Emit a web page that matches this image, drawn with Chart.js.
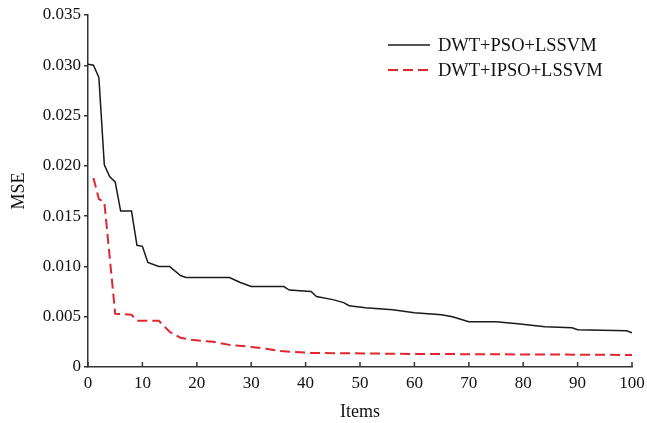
<!DOCTYPE html>
<html>
<head>
<meta charset="utf-8">
<script src="https://cdn.jsdelivr.net/npm/chart.js@4.4.1/dist/chart.umd.min.js"></script>
<style>
  html, body { margin: 0; padding: 0; background: #fff; }
  #wrap { width: 647px; height: 423px; }
</style>
</head>
<body>
<div id="wrap"><canvas id="mse-chart" width="647" height="423"></canvas></div>
<script>
// series
var psoLabel = 'DWT+PSO+LSSVM';
var psoX = [0, 1, 2, 3, 4, 5, 6, 8, 9, 10, 11, 13, 15, 17, 18, 26, 28, 30, 36, 37, 41, 42, 45, 47, 48, 51, 56, 60, 65, 67, 70, 75, 79, 84, 89, 90, 99, 100];
var psoY = [0.0301, 0.0300, 0.0288, 0.0201, 0.0189, 0.0184, 0.0155, 0.0155, 0.0121, 0.0120, 0.0104, 0.0100, 0.0100, 0.0091, 0.0089, 0.0089, 0.0084, 0.0080, 0.0080, 0.00765, 0.0075, 0.0070, 0.0067, 0.0064, 0.0061, 0.0059, 0.0057, 0.0054, 0.0052, 0.0050, 0.0045, 0.0045, 0.0043, 0.0040, 0.0039, 0.0037, 0.0036, 0.0034];

var ipsoLabel = 'DWT+IPSO+LSSVM';
var ipsoX = [1, 2, 3, 5, 8, 9, 13, 15, 17, 19, 21, 23, 26, 30, 33, 35, 38, 41, 60, 100];
var ipsoY = [0.0188, 0.0167, 0.0164, 0.0053, 0.0052, 0.0046, 0.0046, 0.0035, 0.0029, 0.0027, 0.0026, 0.0025, 0.0022, 0.0020, 0.0018, 0.0016, 0.0015, 0.0014, 0.0013, 0.0012];

var xTicks = [0, 10, 20, 30, 40, 50, 60, 70, 80, 90, 100];
var yTicks = [0, 0.005, 0.010, 0.015, 0.020, 0.025, 0.030, 0.035];
var yTickLabels = ['0', '0.005', '0.010', '0.015', '0.020', '0.025', '0.030', '0.035'];

var serif = '"Liberation Serif", "DejaVu Serif", serif';
var axisColor = '#333';

function toPoints(xs, ys) {
  var pts = [];
  for (var i = 0; i < xs.length; i++) {
    pts.push({ x: xs[i], y: ys[i] });
  }
  return pts;
}

// x ticks point into the plot, legend sits inside the top right corner
var extrasPlugin = {
  id: 'extras',
  afterDraw: function (chart) {
    var ctx = chart.ctx;
    var xs = chart.scales.x;
    var area = chart.chartArea;
    ctx.save();
    ctx.strokeStyle = axisColor;
    ctx.lineWidth = 1.5;
    for (var i = 0; i < xTicks.length; i++) {
      var px = xs.getPixelForValue(xTicks[i]);
      ctx.beginPath();
      ctx.moveTo(px, area.bottom);
      ctx.lineTo(px, area.bottom - 5);
      ctx.stroke();
    }

    var sets = chart.data.datasets;
    ctx.font = '18.5px ' + serif;
    ctx.textBaseline = 'middle';
    ctx.fillStyle = '#111';
    for (var j = 0; j < sets.length; j++) {
      var y = 45 + j * 25;
      ctx.beginPath();
      ctx.strokeStyle = sets[j].borderColor;
      ctx.lineWidth = sets[j].borderWidth;
      ctx.setLineDash(sets[j].borderDash || []);
      ctx.moveTo(388, y);
      ctx.lineTo(430, y);
      ctx.stroke();
      ctx.setLineDash([]);
      ctx.fillText(sets[j].label, 438, y + 1);
    }
    ctx.restore();
  }
};

var chart = new Chart(document.getElementById('mse-chart').getContext('2d'), {
  type: 'line',
  data: {
    datasets: [
      {
        label: psoLabel,
        data: toPoints(psoX, psoY),
        borderColor: '#1a1a1a',
        borderWidth: 1.5,
        pointRadius: 0,
        tension: 0,
        fill: false
      },
      {
        label: ipsoLabel,
        data: toPoints(ipsoX, ipsoY),
        borderColor: '#e3262d',
        borderWidth: 2,
        borderDash: [10, 5],
        pointRadius: 0,
        tension: 0,
        fill: false
      }
    ]
  },
  options: {
    responsive: false,
    animation: false,
    layout: { padding: { top: 15, right: 15, left: 0, bottom: 0 } },
    plugins: {
      legend: { display: false },
      tooltip: { enabled: false }
    },
    scales: {
      x: {
        type: 'linear',
        min: 0,
        max: 100,
        afterFit: function (scale) { scale.height = 56; },
        afterBuildTicks: function (scale) {
          scale.ticks = xTicks.map(function (v) { return { value: v }; });
        },
        border: { display: true, color: axisColor, width: 1.5 },
        grid: { display: false },
        ticks: {
          color: '#111',
          font: { family: serif, size: 17 },
          padding: -2,
          maxRotation: 0
        },
        title: {
          display: true,
          text: 'Items',
          color: '#111',
          font: { family: serif, size: 18 },
          padding: { top: 4, bottom: 0 }
        }
      },
      y: {
        min: 0,
        max: 0.035,
        afterFit: function (scale) { scale.width = 88; },
        afterBuildTicks: function (scale) {
          scale.ticks = yTicks.map(function (v) { return { value: v }; });
        },
        border: { display: true, color: axisColor, width: 1.5 },
        grid: {
          drawOnChartArea: false,
          drawTicks: true,
          tickLength: 4,
          color: axisColor,
          lineWidth: 1.5
        },
        ticks: {
          color: '#111',
          font: { family: serif, size: 17 },
          padding: 3,
          callback: function (value, index) { return yTickLabels[index]; }
        },
        title: {
          display: true,
          text: 'MSE',
          color: '#111',
          font: { family: serif, size: 18 },
          padding: { top: 8, bottom: 0 }
        }
      }
    }
  },
  plugins: [extrasPlugin]
});
</script>
</body>
</html>
